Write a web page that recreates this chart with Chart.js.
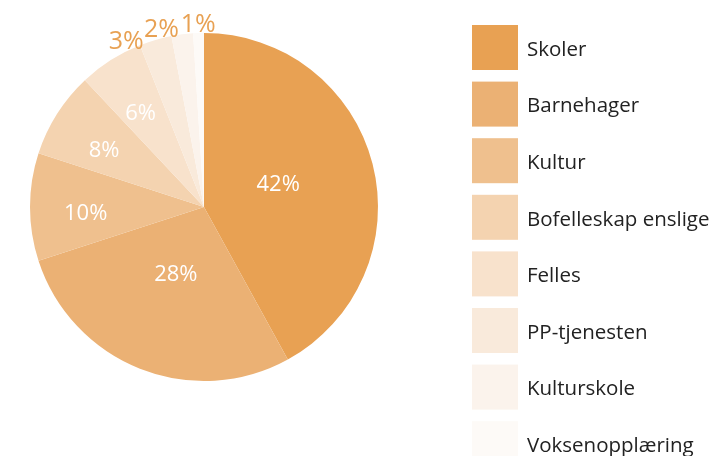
<!DOCTYPE html>
<html>
<head>
<meta charset="utf-8">
<script src="https://cdn.jsdelivr.net/npm/chart.js@4"></script>
<style>
  html, body { margin: 0; padding: 0; background: #fff; overflow: hidden; }
  #wrap { width: 719px; height: 456px; }
</style>
</head>
<body>
<div id="wrap"><canvas id="graf" width="719" height="456"></canvas></div>
<script>
// kategorier og andeler (prosent)
var kategorier = ['Skoler', 'Barnehager', 'Kultur', 'Bofelleskap enslige', 'Felles', 'PP-tjenesten', 'Kulturskole', 'Voksenopplæring'];
var andeler = [42, 28, 10, 8, 6, 3, 2, 1];
var farger = ['#e8a153', '#ebb174', '#efc08e', '#f4d3b0', '#f8e2cc', '#f9eadb', '#fbf3ec', '#fdfaf7'];

var skrift = '"Open Sans", sans-serif';

// etiketter på/utenfor sektorene
var etikettPlugin = {
    id: 'etiketter',
    afterDatasetsDraw: function (chart) {
        var ctx = chart.ctx;
        var meta = chart.getDatasetMeta(0);
        var sum = andeler.reduce(function (a, b) { return a + b; }, 0);
        ctx.save();
        ctx.textAlign = 'center';
        ctx.textBaseline = 'middle';
        // små sektorer: etikett utenfor, spres ut bakover fra toppen
        var minsteAvstand = 11.5 * Math.PI / 180;
        var forrige = null;
        for (var i = meta.data.length - 1; i >= 0; i--) {
            var arc = meta.data[i];
            var andel = andeler[i] / sum;
            var midt = (arc.startAngle + arc.endAngle) / 2;
            var r, farge, str, dy = 0;
            if (andel >= 0.2) { r = arc.outerRadius * 0.44; farge = '#ffffff'; str = 22; dy = -3; }
            else if (andel >= 0.05) { r = arc.outerRadius * 0.68; farge = '#ffffff'; str = 22; dy = 7; }
            else {
                if (forrige !== null && forrige - midt < minsteAvstand) midt = forrige - minsteAvstand;
                forrige = midt;
                r = arc.outerRadius * 1.065; farge = '#e8a153'; str = 25; dy = 3;
            }
            var x = arc.x + Math.cos(midt) * r;
            var y = arc.y + Math.sin(midt) * r + dy;
            ctx.fillStyle = farge;
            ctx.font = str + 'px ' + skrift;
            ctx.fillText(andeler[i] + '%', x, y);
        }
        ctx.restore();
    }
};

// egen forklaring til høyre
var forklaringPlugin = {
    id: 'forklaring',
    afterDraw: function (chart) {
        var ctx = chart.ctx;
        ctx.save();
        ctx.textAlign = 'left';
        ctx.textBaseline = 'middle';
        ctx.font = '20.5px ' + skrift;
        kategorier.forEach(function (navn, i) {
            var y = 25 + i * 56.6;
            ctx.fillStyle = farger[i];
            ctx.fillRect(472, y, 46, 45);
            ctx.fillStyle = '#222222';
            ctx.fillText(navn, 527, y + 25);
        });
        ctx.restore();
    }
};

var ctx = document.getElementById('graf').getContext('2d');
var kake = new Chart(ctx, {
    type: 'pie',
    data: {
        labels: kategorier,
        datasets: [{
            data: andeler,
            backgroundColor: farger,
            borderWidth: 0
        }]
    },
    options: {
        responsive: false,
        animation: false,
        layout: { padding: { left: 30, top: 33, right: 341, bottom: 75 } },
        plugins: {
            legend: { display: false },
            tooltip: { enabled: false }
        }
    },
    plugins: [etikettPlugin, forklaringPlugin]
});
</script>
</body>
</html>
